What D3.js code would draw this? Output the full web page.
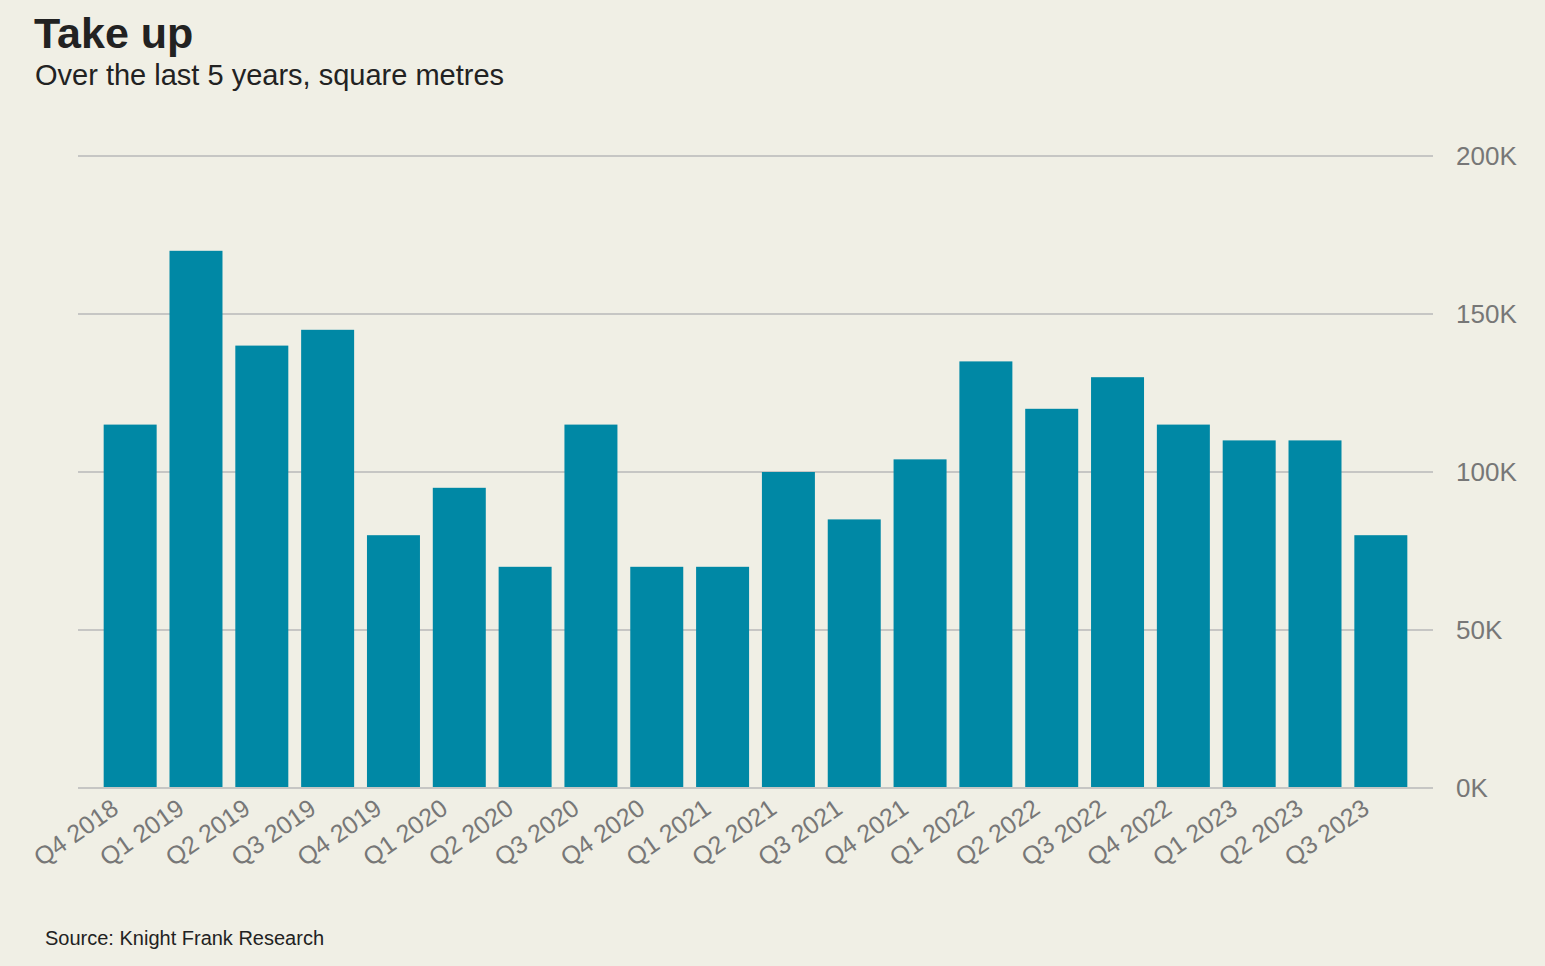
<!DOCTYPE html>
<html>
<head>
<meta charset="utf-8">
<script src="https://cdn.jsdelivr.net/npm/d3@7"></script>
<style>
  html, body { margin: 0; padding: 0; background: #f0efe5; }
  svg { display: block; font-family: "Liberation Sans", Arial, sans-serif; }
</style>
</head>
<body>
<svg id="chart" width="1545" height="966"></svg>
<script>
// quarterly take up, square metres
var quarters = ["Q4 2018", "Q1 2019", "Q2 2019", "Q3 2019", "Q4 2019",
    "Q1 2020", "Q2 2020", "Q3 2020", "Q4 2020", "Q1 2021",
    "Q2 2021", "Q3 2021", "Q4 2021", "Q1 2022", "Q2 2022",
    "Q3 2022", "Q4 2022", "Q1 2023", "Q2 2023", "Q3 2023"];
var takeUp = [115000, 170000, 140000, 145000, 80000,
    95000, 70000, 115000, 70000, 70000,
    100000, 85000, 104000, 135000, 120000,
    130000, 115000, 110000, 110000, 80000];
var yTicks = [0, 50000, 100000, 150000, 200000];

var svg = d3.select("#chart");

// plot edges (not "top" - that one belongs to window)
var plotL = 78, plotR = 1433, plotT = 156, plotB = 788;

var x = d3.scaleBand()
    .domain(quarters)
    .range([plotL, plotR])
    .paddingInner(0.195)
    .paddingOuter(0.39);

var y = d3.scaleLinear()
    .domain([0, 200000])
    .range([plotB, plotT]);

// gridlines + right hand labels
var grid = svg.append("g");
grid.selectAll("line")
    .data(yTicks)
    .enter().append("line")
    .attr("x1", plotL)
    .attr("x2", plotR)
    .attr("y1", function(d) { return y(d); })
    .attr("y2", function(d) { return y(d); })
    .attr("stroke", "#c6c6c4")
    .attr("stroke-width", 2);

grid.selectAll("text")
    .data(yTicks)
    .enter().append("text")
    .attr("x", 1456)
    .attr("y", function(d) { return y(d); })
    .attr("dy", "0.36em")
    .attr("fill", "#777777")
    .style("font-size", "26px")
    .text(function(d) { return (d / 1000) + "K"; });

// bars
svg.append("g").selectAll("rect")
    .data(takeUp)
    .enter().append("rect")
    .attr("x", function(d, i) { return x(quarters[i]); })
    .attr("width", x.bandwidth())
    .attr("y", function(d) { return y(d); })
    .attr("height", function(d) { return y(0) - y(d); })
    .attr("fill", "#0088a5");

// baseline over the bars
svg.append("line")
    .attr("x1", plotL).attr("x2", plotR)
    .attr("y1", y(0)).attr("y2", y(0))
    .attr("stroke", "#c6c6c4")
    .attr("stroke-width", 2);

// rotated quarter labels
svg.append("g").selectAll("text")
    .data(quarters)
    .enter().append("text")
    .attr("transform", function(d) {
        return "translate(" + (x(d) + x.bandwidth() / 2 - 10) + "," + 812 + ") rotate(-35)";
    })
    .attr("text-anchor", "end")
    .attr("fill", "#777777")
    .style("font-size", "25px")
    .text(function(d) { return d; });

// titles
svg.append("text")
    .attr("x", 34).attr("y", 48)
    .attr("fill", "#222222")
    .style("font-size", "43px")
    .style("font-weight", "bold")
    .text("Take up");

svg.append("text")
    .attr("x", 35).attr("y", 85)
    .attr("fill", "#222222")
    .style("font-size", "29px")
    .text("Over the last 5 years, square metres");

svg.append("text")
    .attr("x", 45).attr("y", 945)
    .attr("fill", "#222222")
    .style("font-size", "20px")
    .text("Source: Knight Frank Research");
</script>
</body>
</html>
